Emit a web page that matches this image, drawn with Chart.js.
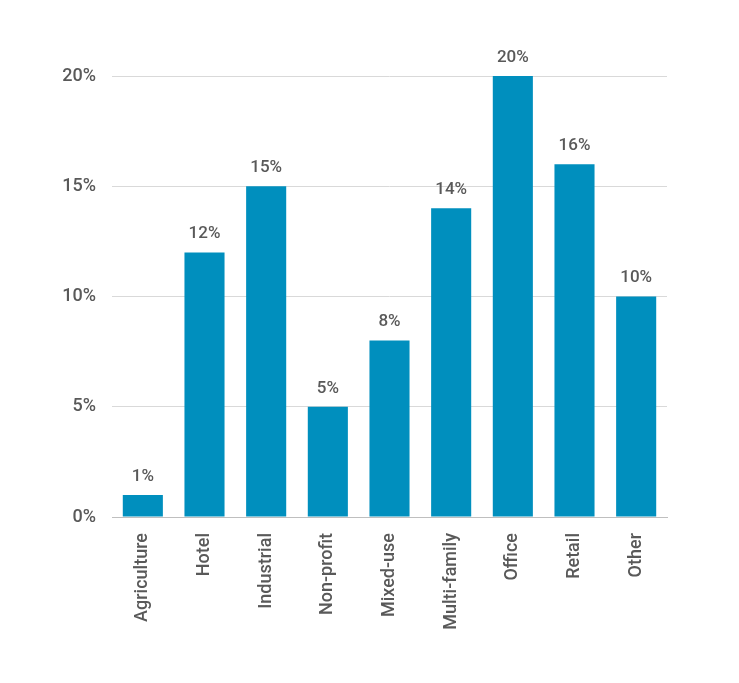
<!DOCTYPE html>
<html><head><meta charset="utf-8">
<script src="https://cdn.jsdelivr.net/npm/chart.js@4/dist/chart.umd.min.js"></script>
<style>html,body{margin:0;padding:0;background:#fff}#w{width:739px;height:683px}</style>
</head><body><div id="w"><canvas id="c"></canvas></div>
<script>
const categories = ["Agriculture","Hotel","Industrial","Non-profit","Mixed-use","Multi-family","Office","Retail","Other"];
const shares = [1,12,15,5,8,14,20,16,10];
const yTicks = [0,5,10,15,20];

const labelPlugin = {
  id:'lbl',
  afterDatasetsDraw(chart){
    const ctx = chart.ctx;
    const meta = chart.getDatasetMeta(0);
    ctx.save();
    ctx.fillStyle = '#595959';
    ctx.font = '500 17px Roboto';
    ctx.textAlign = 'center';
    ctx.textBaseline = 'bottom';
    meta.data.forEach((b,i)=>{ ctx.fillText(shares[i]+'%', b.x, b.y - 10); });
    ctx.restore();
  }
};

new Chart(document.getElementById('c'), {
  type:'bar',
  data:{labels:categories, datasets:[{data:shares, backgroundColor:'#008fbe', categoryPercentage:0.65, barPercentage:1}]},
  options:{
    responsive:true, maintainAspectRatio:false, animation:false,
    layout:{padding:{top:76,right:72,left:0,bottom:0}},
    plugins:{legend:{display:false}, tooltip:{enabled:false}},
    scales:{
      y:{min:0,max:20,
        afterBuildTicks(s){ s.ticks = yTicks.map(v=>({value:v})); },
        afterFit(s){ s.width = 112; },
        ticks:{color:'#595959', font:{family:'Roboto', size:18, weight:'500'}, padding:16, callback:v=>v+'%'},
        grid:{color:'#d9d9d9', drawTicks:false}, border:{display:false}},
      x:{
        afterFit(s){ s.height = 166; },
        ticks:{color:'#595959', font:{family:'Roboto', size:18, weight:'500'}, maxRotation:90, minRotation:90, padding:8},
        grid:{display:false}, border:{color:'#bfbfbf'}}
    }
  },
  plugins:[labelPlugin]
});
</script></body></html>
